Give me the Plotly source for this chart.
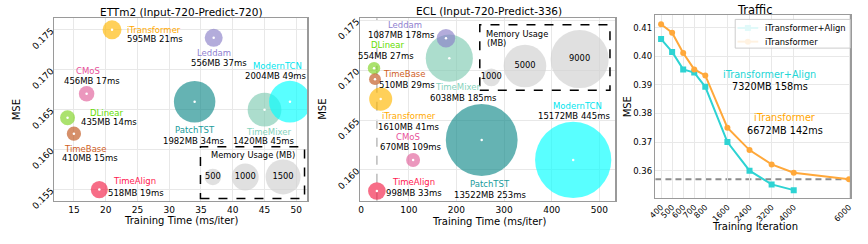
import math
import plotly.graph_objects as go

W, H = 868, 244
FONT = "DejaVu Sans"

# ---------------- data ----------------
models = ["PatchTST", "TimeMixer", "ModernTCN", "iTransformer", "Leddam",
          "CMoS", "DLinear", "TimeBase", "TimeAlign"]

ett_time = [34, 45, 49, 21, 37, 17, 14, 15, 19]
ett_mse = [0.166, 0.165, 0.166, 0.175, 0.174, 0.167, 0.164, 0.162, 0.155]
ett_mem = [1982, 1420, 2004, 595, 556, 456, 435, 410, 518]

ecl_time = [253, 185, 445, 41, 178, 109, 27, 29, 33]
ecl_mse = [0.1630, 0.1712, 0.1610, 0.1671, 0.1732, 0.1610, 0.1702, 0.1691, 0.1579]
ecl_mem = [13522, 6038, 15172, 1610, 1087, 670, 554, 510, 998]

ett_mem_legend = [500, 1000, 1500]
ecl_mem_legend = [1000, 5000, 9000]

traffic_iters_align = [400, 500, 600, 700, 800, 1600, 2400, 3200, 4000]
traffic_mse_align = [0.406, 0.4015, 0.3954, 0.3943, 0.3893, 0.370, 0.360, 0.3552, 0.3532]
traffic_iters_itr = [400, 500, 600, 700, 800, 1600, 2400, 3200, 4000, 6000]
traffic_mse_itr = [0.4112, 0.4082, 0.4011, 0.3954, 0.3933, 0.375, 0.3672, 0.3622, 0.3593, 0.357]
traffic_tick_iters = [400, 500, 600, 700, 800, 1600, 2400, 3200, 4000, 6000]
traffic_yticks = [0.36, 0.37, 0.38, 0.39, 0.40, 0.41]
traffic_names = ["iTransformer+Align", "iTransformer"]
traffic_mem = [7320, 6672]
traffic_ms = [158, 142]

# ---------------- style ----------------
base_color = {
    "PatchTST": "#138a8a", "TimeMixer": "#7fcbb2", "ModernTCN": "#00ffff",
    "iTransformer": "#ffb700", "Leddam": "#8a7fc8", "CMoS": "#e0609a",
    "DLinear": "#7ed321", "TimeBase": "#c0541a", "TimeAlign": "#f21f46",
}
text_color = {
    "PatchTST": "#1a9c9c", "TimeMixer": "#86d3bd", "ModernTCN": "#00e5ee",
    "iTransformer": "#ffaa00", "Leddam": "#8f7fd0", "CMoS": "#e8509a",
    "DLinear": "#66dd00", "TimeBase": "#d0601e", "TimeAlign": "#ff2050",
}
traffic_colors = ["#2ed3d3", "#ffa83a"]
traffic_text_colors = ["#22d6d6", "#ffa500"]
traffic_symbols = ["square", "circle"]

# label offsets in screen px: (name_dx, name_dy, name_anchor, stat_dx, stat_dy, stat_anchor)
ett_off = {
    "TimeAlign": (35.3, -8.3, "center", 37, 3, "center"),
    "iTransformer": (13.3, -0.3, "left", 13.3, 9, "left"),
    "Leddam": (0.3, 15, "center", 5.3, 25.6, "center"),
    "CMoS": (1.7, -22.7, "center", 5, -12.7, "center"),
    "DLinear": (20, -5, "left", 11.7, 4.7, "left"),
    "TimeBase": (11.7, 15.3, "center", 15.7, 24.7, "center"),
    "PatchTST": (0.7, 28.4, "center", -0.5, 39, "center"),
    "TimeMixer": (3.7, 22.3, "center", -1, 31.6, "center"),
    "ModernTCN": (-12.7, -36, "center", -13.5, -26, "center"),
}
ecl_off = {
    "TimeAlign": (36.3, -9, "center", 37.3, 1.7, "center"),
    "iTransformer": (28, 17.3, "center", 28.7, 27.6, "center"),
    "Leddam": (-41, -13.3, "center", -44.5, -3.3, "center"),
    "CMoS": (-5.3, -23.4, "center", -2, -13.4, "center"),
    "DLinear": (13.8, -23.3, "center", 11.8, -11.7, "center"),
    "TimeBase": (29.5, -5, "center", 32, 6, "center"),
    "PatchTST": (8, 44.3, "center", 8.3, 55, "center"),
    "TimeMixer": (8.3, 29, "center", 14.3, 40, "center"),
    "ModernTCN": (4.8, -54, "center", 1.1, -44.4, "center"),
}


def ett_r(mb):
    return 0.56 * math.sqrt(mb) - 4.2


def ecl_r(mb):
    return 0.32 * math.sqrt(mb) - 1.3


def iter_pos(v):
    return v / 800 if v >= 800 else (v - 600) / 200


def pxx(x):
    return x / W


def pyy(y):
    return 1 - y / H


fig = go.Figure()
annotations = []
shapes = []

LBL = 8.5


def add_panel(times, mses, mems, rfun, xa, ya, offs):
    for i, m in enumerate(models):
        fig.add_trace(go.Scatter(
            x=[times[i]], y=[mses[i]], mode="markers", xaxis=xa, yaxis=ya,
            marker=dict(size=2 * rfun(mems[i]), color=base_color[m], opacity=0.65,
                        line=dict(width=0)),
            showlegend=False, hoverinfo="skip"))
    fig.add_trace(go.Scatter(
        x=times, y=mses, mode="markers", xaxis=xa, yaxis=ya,
        marker=dict(size=2.5, color="white", line=dict(width=0)),
        showlegend=False, hoverinfo="skip"))
    for i, m in enumerate(models):
        ndx, ndy, na, sdx, sdy, sa = offs[m]
        annotations.append(dict(
            x=times[i], y=mses[i], xref=xa, yref=ya, text=m, showarrow=False,
            xshift=ndx, yshift=-ndy, xanchor=na, yanchor="middle",
            font=dict(family=FONT, size=LBL, color=text_color[m])))
        annotations.append(dict(
            x=times[i], y=mses[i], xref=xa, yref=ya,
            text=f"{mems[i]}MB {times[i]}ms", showarrow=False,
            xshift=sdx, yshift=-sdy, xanchor=sa, yanchor="middle",
            font=dict(family=FONT, size=LBL, color="black")))


add_panel(ett_time, ett_mse, ett_mem, ett_r, "x", "y", ett_off)
add_panel(ecl_time, ecl_mse, ecl_mem, ecl_r, "x2", "y2", ecl_off)

# ECL vertical reference line through TimeAlign
ta = models.index("TimeAlign")
shapes.append(dict(type="line", xref="x2", yref="y2 domain", x0=ecl_time[ta], x1=ecl_time[ta],
                   y0=0, y1=1, line=dict(color="#bbbbbb", width=1.5, dash="dash"), layer="below"))

# Traffic
for k, (its, vals) in enumerate([(traffic_iters_align, traffic_mse_align),
                                  (traffic_iters_itr, traffic_mse_itr)]):
    fig.add_trace(go.Scatter(
        x=[iter_pos(v) for v in its], y=vals,
        mode="lines+markers", xaxis="x3", yaxis="y3", name=traffic_names[k],
        line=dict(color=traffic_colors[k], width=2),
        marker=dict(symbol=traffic_symbols[k], size=6, color=traffic_colors[k]),
        showlegend=False, hoverinfo="skip"))
shapes.append(dict(type="line", xref="x3 domain", yref="y3", x0=0, x1=1,
                   y0=traffic_mse_itr[-1], y1=traffic_mse_itr[-1],
                   line=dict(color="#8c8c8c", width=1.8, dash="6px,4px"), layer="below"))

tr_lbl = [((771.3, 76.7), (772, 89.3)), ((787, 121.7), (787.5, 135))]
for k, ((nx, ny), (sx, sy)) in enumerate(tr_lbl):
    annotations.append(dict(x=pxx(nx), y=pyy(ny), xref="paper", yref="paper", text=traffic_names[k],
                            showarrow=False, xanchor="center", yanchor="middle",
                            font=dict(family=FONT, size=9.7, color=traffic_text_colors[k])))
    annotations.append(dict(x=pxx(sx), y=pyy(sy), xref="paper", yref="paper",
                            text=f"{traffic_mem[k]}MB {traffic_ms[k]}ms",
                            showarrow=False, xanchor="center", yanchor="middle",
                            font=dict(family=FONT, size=9.7, color="black")))

# Traffic legend (custom, pixel overlay)
shapes.append(dict(type="rect", xref="paper", yref="paper", x0=pxx(736.7), x1=pxx(853),
                   y0=pyy(48.5), y1=pyy(18.3), line=dict(color="#cccccc", width=1),
                   fillcolor="rgba(255,255,255,0.85)"))
for k, ly in enumerate([27.3, 41.7]):
    fig.add_trace(go.Scatter(x=[739, 760], y=[ly, ly], mode="lines", xaxis="x4", yaxis="y4",
                             line=dict(color=traffic_colors[k], width=2),
                             showlegend=False, hoverinfo="skip"))
    fig.add_trace(go.Scatter(x=[749.5], y=[ly], mode="markers", xaxis="x4", yaxis="y4",
                             marker=dict(symbol=traffic_symbols[k], size=6, color=traffic_colors[k]),
                             showlegend=False, hoverinfo="skip"))
    annotations.append(dict(x=pxx(765), y=pyy(ly), xref="paper", yref="paper", text=traffic_names[k],
                            showarrow=False, xanchor="left", yanchor="middle",
                            font=dict(family=FONT, size=8.4, color="black")))

# Memory legends on a pixel-coordinate overlay axis
ett_leg_pos = [(208.3, 184), (241, 184), (279.3, 184)]
ecl_leg_pos = [(490, 79.3), (524, 67.3), (579.3, 60)]
fig.add_trace(go.Scatter(
    x=[p[0] for p in ett_leg_pos] + [p[0] for p in ecl_leg_pos],
    y=[p[1] for p in ett_leg_pos] + [p[1] for p in ecl_leg_pos],
    mode="markers+text", xaxis="x4", yaxis="y4",
    text=[str(v) for v in ett_mem_legend] + [str(v) for v in ecl_mem_legend],
    textposition="middle center", textfont=dict(family=FONT, size=8.3, color="black"),
    marker=dict(size=[2 * ett_r(v) for v in ett_mem_legend] + [2 * ecl_r(v) for v in ecl_mem_legend],
                color="#d3d3d3", line=dict(width=0)),
    showlegend=False, hoverinfo="skip"))
for (x0, y0, x1, y1) in [(195.7, 152.3, 301, 206.7), (478.3, 24, 610, 92.7)]:
    shapes.append(dict(type="rect", xref="paper", yref="paper", x0=pxx(x0), x1=pxx(x1),
                       y0=pyy(y1), y1=pyy(y0), line=dict(color="black", width=1.5, dash="dash")))
annotations.append(dict(x=pxx(249), y=pyy(161), xref="paper", yref="paper", text="Memory Usage (MB)",
                        showarrow=False, xanchor="center", yanchor="middle",
                        font=dict(family=FONT, size=8.3, color="black")))
annotations.append(dict(x=pxx(482.5), y=pyy(33.3), xref="paper", yref="paper", text="Memory Usage",
                        showarrow=False, xanchor="left", yanchor="middle",
                        font=dict(family=FONT, size=8.3, color="black")))
annotations.append(dict(x=pxx(484), y=pyy(43.3), xref="paper", yref="paper", text="(MB)",
                        showarrow=False, xanchor="left", yanchor="middle",
                        font=dict(family=FONT, size=8.3, color="black")))

# Titles and axis titles
for txt, x, y, sz, ang in [
    ("ETTm2 (Input-720-Predict-720)", 176.5, 10, 10.5, 0),
    ("ECL (Input-720-Predict-336)", 487.5, 9.5, 10.5, 0),
    ("Traffic", 757, 8.5, 11.5, 0),
    ("Training Time (ms/iter)", 176, 229.5, 10, 0),
    ("Training Time (ms/iter)", 487.5, 230.5, 10, 0),
    ("Training Iteration", 757, 236, 10, 0),
    ("MSE", 10, 113, 10, -90),
    ("MSE", 319, 113, 10, -90),
    ("MSE", 628, 110, 10, -90),
]:
    annotations.append(dict(x=pxx(x), y=pyy(y), xref="paper", yref="paper", text=txt,
                            showarrow=False, xanchor="center", yanchor="middle", textangle=ang,
                            font=dict(family=FONT, size=sz, color="black")))

GRID = "#e8e8e8"
FRAME = "#9a9a9a"
ax_common = dict(showgrid=True, gridcolor=GRID, gridwidth=1, zeroline=False, showline=True,
                 linecolor=FRAME, linewidth=1.6, mirror=True, ticks="",
                 tickfont=dict(family=FONT, size=9, color="black"))
small_tick = dict(family=FONT, size=8, color="black")

fig.update_layout(
    width=W, height=H, margin=dict(l=0, r=0, t=0, b=0), autosize=False,
    paper_bgcolor="white", plot_bgcolor="rgba(0,0,0,0)",
    font=dict(family=FONT, color="black"),
    showlegend=False, hovermode=False,
    xaxis=dict(domain=[pxx(48), pxx(304)], range=[11.94, 51.76], anchor="y",
               tickvals=[15, 20, 25, 30, 35, 40, 45, 50], **ax_common),
    yaxis=dict(domain=[pyy(209), pyy(17)], range=[0.15361, 0.17646], anchor="x",
               tickvals=[0.155, 0.16, 0.165, 0.17, 0.175], tickformat=".3f", tickangle=-45, **ax_common),
    xaxis2=dict(domain=[pxx(357.3), pxx(615)], range=[-2.07, 532.6], anchor="y2",
                tickvals=[0, 100, 200, 300, 400, 500], **ax_common),
    yaxis2=dict(domain=[pyy(209), pyy(17)], range=[0.15692, 0.17521], anchor="x2",
                tickvals=[0.16, 0.165, 0.17, 0.175], tickformat=".3f", tickangle=-45, **ax_common),
    xaxis3=dict(domain=[pxx(656), pxx(853)], range=[-1.255, 7.553], anchor="y3",
                tickvals=[iter_pos(v) for v in traffic_tick_iters],
                ticktext=[str(v) for v in traffic_tick_iters], tickangle=-45,
                **{**ax_common, "tickfont": small_tick}),
    yaxis3=dict(domain=[pyy(206), pyy(14)], range=[0.3505, 0.4143], anchor="x3",
                tickvals=traffic_yticks, tickformat=".2f",
                **{**ax_common, "tickfont": dict(family=FONT, size=8.5, color="black")}),
    xaxis4=dict(domain=[0, 1], range=[0, W], anchor="y4", visible=False, fixedrange=True),
    yaxis4=dict(domain=[0, 1], range=[H, 0], anchor="x4", visible=False, fixedrange=True),
    annotations=annotations, shapes=shapes,
)

fig.write_html("out.html", config={"displayModeBar": False, "staticPlot": True},
               post_script="document.body.style.margin='0px';document.body.style.overflow='hidden';")
